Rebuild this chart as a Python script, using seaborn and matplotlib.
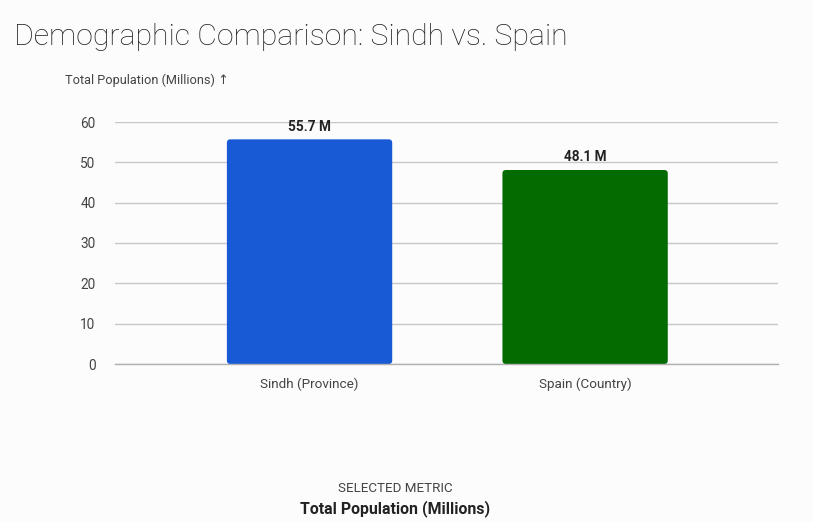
import matplotlib
matplotlib.use("Agg")
import matplotlib.pyplot as plt
from matplotlib.patches import FancyBboxPatch
import seaborn as sns
import pandas as pd

categories = ["Sindh (Province)", "Spain (Country)"]
population = [55.7, 48.1]
bar_colors = ["#185ad6", "#046b00"]
yticks = [0, 10, 20, 30, 40, 50, 60]

sns.set_theme(style="white")
plt.rcParams['font.family'] = ['Roboto', 'DejaVu Sans']

bg = "#fcfcfc"
fig = plt.figure(figsize=(8.13, 5.22), dpi=100, facecolor=bg)
ax = fig.add_axes([115/813, 1-364/522, 663/813, 242/522], facecolor=bg)

df = pd.DataFrame({"cat": categories, "val": population})
sns.barplot(data=df, x="cat", y="val", hue="cat", palette=bar_colors,
            width=0.6, legend=False, ax=ax, saturation=1)

ax.set_xlim(-0.706, 1.70)
ax.set_ylim(0, 60)

# rounded corners: replace bars with rounded boxes of the same geometry
fig.canvas.draw()
bbox = ax.get_window_extent()
xr = ax.get_xlim(); yr = ax.get_ylim()
xpp = (xr[1] - xr[0]) / bbox.width
ypp = (yr[1] - yr[0]) / bbox.height
radius_px = 3.5
for p in list(ax.patches):
    x0, y0, w, h = p.get_x(), p.get_y(), p.get_width(), p.get_height()
    c = p.get_facecolor()
    p.set_visible(False)
    fb = FancyBboxPatch((x0, y0), w, h,
                        boxstyle=f"round,pad=0,rounding_size={radius_px * xpp}",
                        mutation_aspect=ypp / xpp, facecolor=c, edgecolor="none",
                        zorder=3)
    ax.add_patch(fb)

ax.set_yticks(yticks)
ax.set_yticklabels([str(t) for t in yticks], fontsize=9.8, color="#444444")
ax.tick_params(axis='y', length=0, pad=14)
ax.tick_params(axis='x', length=0, pad=10, labelsize=9.7, labelcolor="#444444")
ax.set_xlabel("")
ax.set_ylabel("")
ax.grid(axis='y', color="#c8c8c8", linewidth=1, zorder=0)
ax.set_axisbelow(True)
for s in ["top", "right", "left"]:
    ax.spines[s].set_visible(False)
ax.spines["bottom"].set_color("#b0b0b0")
ax.spines["bottom"].set_linewidth(1)
ax.spines["bottom"].set_zorder(4)

for i, v in enumerate(population):
    ax.annotate(f"{v:.1f} M", (i, v), xytext=(0, 4), textcoords="offset points",
                ha="center", va="bottom", fontsize=9.8, fontweight="bold", color="#222222")

fig.text(14/813, 1-37/522, "Demographic Comparison: Sindh vs. Spain",
         fontsize=21.8, color="#222222", ha="left", va="center", fontweight="light")
fig.text(65/813, 1-80/522, "Total Population (Millions) \u2191",
         fontsize=9.2, color="#444444", ha="left", va="center")
fig.text(395/813, 1-488/522, "SELECTED METRIC", fontsize=9.6, color="#444444",
         ha="center", va="center")
fig.text(395/813, 1-509/522, "Total Population (Millions)", fontsize=11.4,
         fontweight="bold", color="#222222", ha="center", va="center")

fig.savefig("out.png", dpi=100, facecolor=bg)
